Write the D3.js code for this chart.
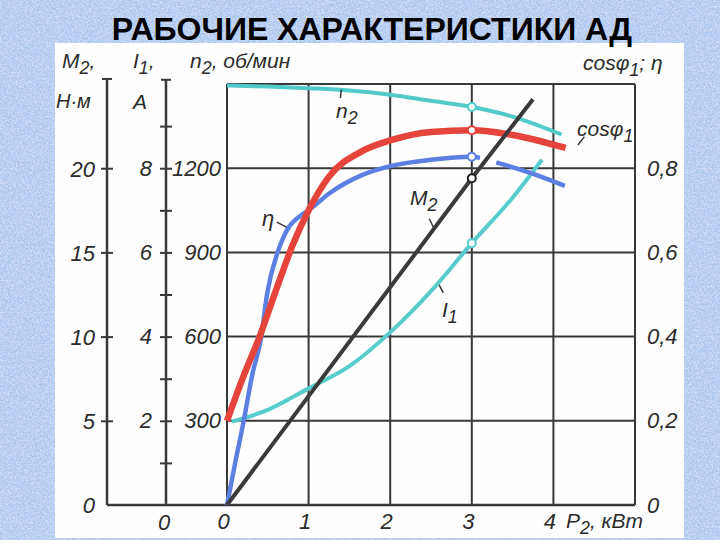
<!DOCTYPE html>
<html>
<head>
<meta charset="utf-8">
<script src="https://cdn.jsdelivr.net/npm/d3@7"></script>
<style>
  body { margin: 0; background: #a7c5ee; }
  svg text { font-family: "Liberation Sans Narrow", "Liberation Sans", sans-serif; font-style: italic; fill: #2b2b2b; }
</style>
</head>
<body>
<svg id="chart" width="720" height="540"></svg>
<script>
// ---- data ----
const title = "РАБОЧИЕ ХАРАКТЕРИСТИКИ АД";

const pTicks = [0, 1, 2, 3, 4];
const fracTicks = [0, 0.2, 0.4, 0.6, 0.8];
const fracLabels = ["0", "0,2", "0,4", "0,6", "0,8"];
const m2Ticks = [0, 5, 10, 15, 20];
const i1Ticks = [1, 2, 3, 4, 5, 6, 7, 8, 9];
const i1Labels = [2, 4, 6, 8];
const n2Ticks = [300, 600, 900, 1200];

// n2, об/мин
const n2P   = [0, 0.5, 1, 1.5, 2, 2.5, 3, 3.5, 4.1];
const n2Val = [1495, 1491, 1485, 1477, 1462, 1440, 1418, 1384, 1320];

// cos φ1
const cosP   = [0, 0.2, 0.4, 0.6, 0.8, 1.0, 1.25, 1.65, 2, 2.5, 3, 3.5, 4.15];
const cosVal = [0.2, 0.305, 0.4, 0.51, 0.615, 0.70, 0.78, 0.84, 0.866, 0.886, 0.89, 0.879, 0.848];

// η (break in the drawn line near P2 = 3.2)
const etaP   = [0, 0.1, 0.2, 0.31, 0.42, 0.49, 0.62, 0.69, 0.75, 0.82, 0.9, 1, 1.26, 1.66, 2, 2.5, 3, 3.1, 3.2, 3.3, 3.7, 4.14];
const etaVal = [0, 0.1, 0.195, 0.31, 0.4, 0.5, 0.6, 0.635, 0.658, 0.674, 0.687, 0.70, 0.741, 0.784, 0.805, 0.82, 0.827, 0.825, null, 0.814, 0.79, 0.758];

// M2, Н·м
const m2P   = [0, 3, 3.75];
const m2Val = [0, 19.4, 24.1];

// I1, A
const i1P   = [0.06, 0.5, 1, 1.5, 2, 2.5, 3, 3.5, 3.86];
const i1Val = [1.98, 2.26, 2.77, 3.3, 4.1, 5.08, 6.22, 7.3, 8.2];

const ratedP = 3; // marked operating point

// ---- drawing ----
const svg = d3.select("#chart");
const W = 720, H = 540;

const defs = svg.append("defs");
const tex = defs.append("filter").attr("id", "tex").attr("x", 0).attr("y", 0).attr("width", "100%").attr("height", "100%");
tex.append("feTurbulence").attr("type", "fractalNoise").attr("baseFrequency", 0.5).attr("numOctaves", 3).attr("seed", 7);
tex.append("feColorMatrix").attr("type", "matrix")
  .attr("values", "0 0 0 0 0.92  0 0 0 0 0.80  0 0 0 0 0.97  1.3 0 0 0 -0.5");
const tex2 = defs.append("filter").attr("id", "tex2").attr("x", 0).attr("y", 0).attr("width", "100%").attr("height", "100%");
tex2.append("feTurbulence").attr("type", "fractalNoise").attr("baseFrequency", 1.2).attr("numOctaves", 2).attr("seed", 2);
tex2.append("feColorMatrix").attr("type", "matrix")
  .attr("values", "0 0 0 0 0.85  0 0 0 0 0.92  0 0 0 0 1  0 1.4 0 0 -0.6");

svg.append("rect").attr("width", W).attr("height", H).attr("fill", "#a7c5ee");
svg.append("rect").attr("width", W).attr("height", H).attr("filter", "url(#tex)");
svg.append("rect").attr("width", W).attr("height", H).attr("filter", "url(#tex2)");

// white sheet
svg.append("rect").attr("x", 55).attr("y", 43).attr("width", 629).attr("height", 495).attr("fill", "#fefefe");

svg.append("text")
  .attr("x", 372).attr("y", 40)
  .attr("text-anchor", "middle")
  .style("font-family", "'Liberation Sans', Arial, sans-serif")
  .style("font-style", "normal")
  .style("font-weight", "bold")
  .style("font-size", "32px")
  .style("fill", "#000")
  .text(title);

// scales
const x  = d3.scaleLinear().domain([0, 5]).range([227, 635]);
const yF = d3.scaleLinear().domain([0, 1]).range([505, 84]);
const yM = yF.copy().domain([0, 25]);
const yI = yF.copy().domain([0, 10]);
const yN = yF.copy().domain([0, 1500]);

const axM = 107, axI = 166;
const ink = "#383838";

// grid + frame
const grid = svg.append("g").attr("stroke", ink).attr("stroke-width", 2).attr("fill", "none");
grid.selectAll(".v").data([0, 1, 2, 3, 4, 5]).join("line")
  .attr("x1", d => x(d)).attr("x2", d => x(d))
  .attr("y1", yF(0)).attr("y2", yF(1));
grid.selectAll(".h").data([0.2, 0.4, 0.6, 0.8, 1]).join("line")
  .attr("x1", x(0)).attr("x2", x(5))
  .attr("y1", d => yF(d)).attr("y2", d => yF(d));
grid.append("line").attr("x1", axM).attr("x2", x(5)).attr("y1", yF(0)).attr("y2", yF(0)).attr("stroke-width", 2.5);

function styleAxis(g, size) {
  g.attr("font-family", null).attr("font-size", null);
  g.selectAll("text").style("font-size", size + "px");
  g.selectAll(".tick line").attr("stroke", ink).attr("stroke-width", 2);
}

// M2 axis
const gM = svg.append("g").attr("transform", `translate(${axM},0)`)
  .call(d3.axisLeft(yM).tickValues(m2Ticks).tickSizeInner(6).tickSizeOuter(0).tickPadding(6).tickFormat(d3.format("d")));
gM.select(".domain").remove();
styleAxis(gM, 22);
gM.selectAll(".tick line").attr("x1", 6);
gM.selectAll(".tick").filter(d => d === 0).select("line").remove();
gM.selectAll(".tick text").attr("dy", "0.36em");
gM.append("line").attr("y1", yM(0)).attr("y2", yM(25.3)).attr("stroke", ink).attr("stroke-width", 2.5);
gM.append("line").attr("x1", -5).attr("x2", 5).attr("y1", yM(25.3)).attr("y2", yM(25.3)).attr("stroke", ink).attr("stroke-width", 2);

// I1 axis
const gI = svg.append("g").attr("transform", `translate(${axI},0)`)
  .call(d3.axisLeft(yI).tickValues(i1Ticks).tickSizeInner(6).tickSizeOuter(0).tickPadding(8)
    .tickFormat(d => i1Labels.includes(d) ? d : ""));
gI.select(".domain").remove();
styleAxis(gI, 22);
gI.selectAll(".tick line").attr("x1", 6);
gI.append("line").attr("y1", yI(0)).attr("y2", yI(10.1)).attr("stroke", ink).attr("stroke-width", 2.5);
gI.append("line").attr("x1", -5).attr("x2", 5).attr("y1", yI(10.1)).attr("y2", yI(10.1)).attr("stroke", ink).attr("stroke-width", 2);
gI.append("text").attr("x", -2).attr("y", 530).attr("text-anchor", "middle").style("font-size", "22px").text("0");

// n2 labels
const gN = svg.append("g").attr("transform", `translate(${x(0)},0)`)
  .call(d3.axisLeft(yN).tickValues(n2Ticks).tickSize(0).tickPadding(6).tickFormat(d3.format("d")));
gN.select(".domain").remove();
styleAxis(gN, 22);

// P2 axis labels
const gP = svg.append("g").attr("transform", `translate(0,${yF(0)})`)
  .call(d3.axisBottom(x).tickValues(pTicks).tickSize(0).tickPadding(8).tickFormat(d3.format("d")));
gP.select(".domain").remove();
styleAxis(gP, 22);
gP.selectAll(".tick text").attr("dx", "-4");

// right cos φ / η labels
const gR = svg.append("g").attr("transform", `translate(${x(5)},0)`)
  .call(d3.axisRight(yF).tickValues(fracTicks).tickSize(0).tickPadding(12)
    .tickFormat(d => fracLabels[fracTicks.indexOf(d)]));
gR.select(".domain").remove();
styleAxis(gR, 22);

// curves
const series = [
  { p: n2P,  v: n2Val,  y: yN, color: "#52caca", w: 4 },
  { p: i1P,  v: i1Val,  y: yI, color: "#57cccc", w: 4 },
  { p: etaP, v: etaVal, y: yF, color: "#5b80e2", w: 4.5 },
  { p: cosP, v: cosVal, y: yF, color: "#e4443c", w: 6.5 },
  { p: m2P,  v: m2Val,  y: yM, color: "#3a3a3a", w: 4, curve: d3.curveLinear }
];

series.forEach(s => {
  const pts = s.p.map((p, i) => [p, s.v[i]]);
  const line = d3.line()
    .defined(d => d[1] != null)
    .x(d => x(d[0]))
    .y(d => s.y(d[1]))
    .curve(s.curve || d3.curveMonotoneX);
  svg.append("path").datum(pts)
    .attr("d", line)
    .attr("fill", "none")
    .attr("stroke", s.color)
    .attr("stroke-width", s.w)
    .attr("stroke-linejoin", "round");
});

// markers at the rated point
series.forEach(s => {
  const i = s.p.indexOf(ratedP);
  if (i < 0) return;
  svg.append("circle")
    .attr("cx", x(ratedP)).attr("cy", s.y(s.v[i]))
    .attr("r", 4)
    .attr("fill", "#fff")
    .attr("stroke", s.color === "#3a3a3a" ? "#222" : s.color)
    .attr("stroke-width", 2);
});

// text with subscripts
function label(px, py, parts, size) {
  const t = svg.append("text").attr("x", px).attr("y", py).style("font-size", size + "px");
  let shift = 0;
  parts.forEach(([str, sub]) => {
    const ts = t.append("tspan").text(str);
    if (sub) { ts.attr("dy", size * 0.3 - shift).style("font-size", (size * 0.85) + "px"); shift = size * 0.3; }
    else { ts.attr("dy", -shift); shift = 0; }
  });
  return t;
}

// axis titles
label(62, 68, [["M", 0], ["2", 1], [",", 0]], 21);
svg.append("text").attr("x", 56).attr("y", 108).style("font-size", "20px").text("Н·м");
label(133, 68, [["I", 0], ["1", 1], [",", 0]], 21);
svg.append("text").attr("x", 133).attr("y", 109).style("font-size", "21px").text("A");
label(190, 68, [["n", 0], ["2", 1], [", об/мин", 0]], 21);
label(583, 70, [["cosφ", 0], ["1", 1], ["; η", 0]], 21);
label(566, 528, [["P", 0], ["2", 1], [", кВт", 0]], 21);

// curve labels with leaders
const lead = svg.append("g").attr("stroke", ink).attr("stroke-width", 1.5);
label(336, 118, [["n", 0], ["2", 1]], 21);
lead.append("line").attr("x1", x(1.4)).attr("y1", yN(1480)).attr("x2", x(1.39)).attr("y2", yN(1450));
label(577, 136, [["cosφ", 0], ["1", 1]], 21);
lead.append("line").attr("x1", x(4.3)).attr("y1", yF(0.855)).attr("x2", x(4.38)).attr("y2", yF(0.875));
svg.append("text").attr("x", 262).attr("y", 226).style("font-size", "22px").text("η");
lead.append("line").attr("x1", x(0.61)).attr("y1", yF(0.672)).attr("x2", x(0.73)).attr("y2", yF(0.66));
label(410, 205, [["M", 0], ["2", 1]], 21);
lead.append("line").attr("x1", x(2.48)).attr("y1", yF(0.68)).attr("x2", x(2.54)).attr("y2", yF(0.655));
label(442, 317, [["I", 0], ["1", 1]], 21);
lead.append("line").attr("x1", x(2.6)).attr("y1", yF(0.523)).attr("x2", x(2.65)).attr("y2", yF(0.504));
</script>
</body>
</html>
